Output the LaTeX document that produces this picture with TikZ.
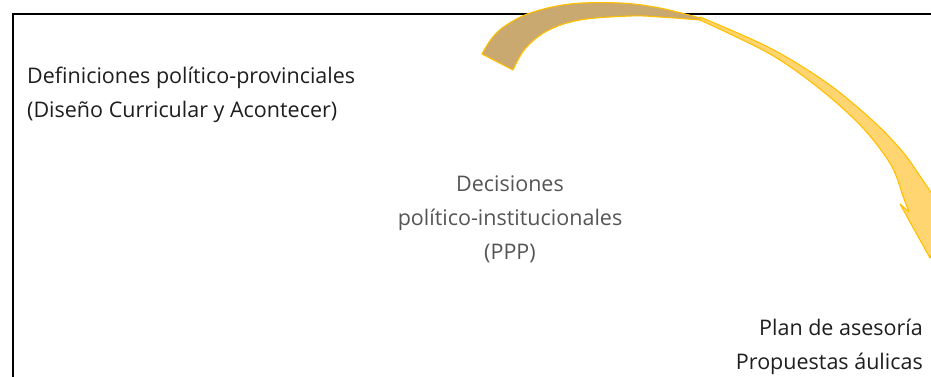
\documentclass[tikz,border=0pt]{standalone}
\usepackage{fontspec}
\setmainfont{Open Sans}
\definecolor{txtdark}{HTML}{1E1E1E}
\definecolor{txtgray}{HTML}{555555}
\definecolor{arrowline}{HTML}{FFC000}
\definecolor{arrowtan}{HTML}{C9A970}
\definecolor{arrowyel}{HTML}{FFD571}
\tikzset{
  lbl/.style={inner sep=0pt, font=\fontsize{21.5}{34}\selectfont},
  framebox/.style={draw=black, line width=2pt},
  ribbon/.style={draw=arrowline, line width=1.1pt, line join=round}
}
\begin{document}
\begin{tikzpicture}[x=1pt,y=-1pt]
\useasboundingbox (0,0) rectangle (931,376);
\clip (0,0) rectangle (931,376);
% frame (only top and left edges visible)
\draw[framebox] (12.5,14) rectangle (960,400);
% curved arrow: back (tan) part
\fill[arrowtan, ribbon] plot[smooth, tension=0.6] coordinates {(482,54) (492,38) (505,26) (530,13) (570,4) (620,3) (660,8) (700,18)}
  -- plot[smooth, tension=0.6] coordinates {(700,20) (660,17) (630,16) (580,20) (547,31) (525,49) (513,70)} -- cycle;
% curved arrow: front (yellow) part with head
\fill[arrowyel, ribbon] plot[smooth, tension=0.55] coordinates {(700,17) (770,48) (827,83) (872,120) (902,151) (922,179) (936,200)}
  -- (958,192) -- (930,258) -- (900,204) -- (909,212)
  -- plot[smooth, tension=0.55] coordinates {(909,212) (904,199) (891,165) (862,127) (820,89) (770,54) (700,20)} -- cycle;
% texts
\node[lbl, text=txtdark, anchor=north west, align=left] (def) at (27,66.4)
  {Definiciones político-provinciales\\(Diseño Curricular y Acontecer)};
\node[lbl, text=txtgray, anchor=north, align=center] (dec) at (510,175.7)
  {Decisiones\\político-institucionales\\(PPP)};
\node[lbl, text=txtdark, anchor=north east, align=right] (plan) at (923,318.4)
  {Plan de asesoría\\Propuestas áulicas};
\end{tikzpicture}
\end{document}
